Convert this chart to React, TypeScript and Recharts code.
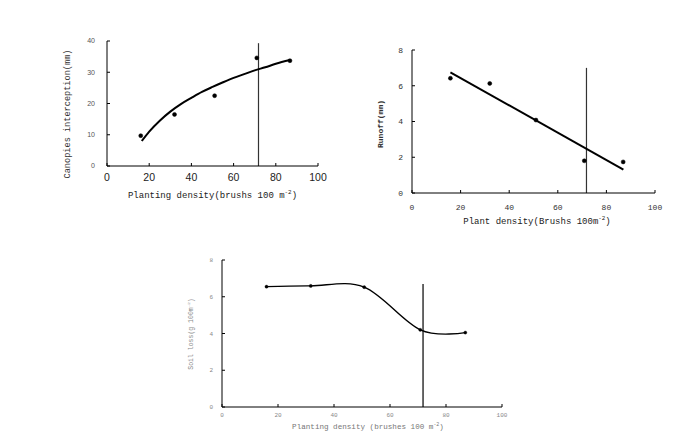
import React from 'react';
import { ComposedChart, Line, XAxis, YAxis, ReferenceLine, Label } from 'recharts';

// ---------- Data ----------
const xTicks = [0, 20, 40, 60, 80, 100];
const canopyTicks = [0, 10, 20, 30, 40];
const runoffTicks = [0, 2, 4, 6, 8];
const soilTicks = [0, 2, 4, 6, 8];

const canopyPoints = [
  { x: 16, y: 9.7 },
  { x: 32, y: 16.5 },
  { x: 51, y: 22.5 },
  { x: 71, y: 34.6 },
  { x: 86.7, y: 33.7 },
];
const canopyCurve = [
  { x: 16.5, y: 8.0 },
  { x: 20, y: 11.0 },
  { x: 25, y: 14.5 },
  { x: 30, y: 17.4 },
  { x: 35, y: 19.8 },
  { x: 40, y: 21.8 },
  { x: 45, y: 23.7 },
  { x: 50, y: 25.3 },
  { x: 55, y: 26.8 },
  { x: 60, y: 28.2 },
  { x: 65, y: 29.4 },
  { x: 70, y: 30.6 },
  { x: 75, y: 31.6 },
  { x: 80, y: 32.7 },
  { x: 86.7, y: 33.9 },
];

const runoffPoints = [
  { x: 15.8, y: 6.42 },
  { x: 32, y: 6.13 },
  { x: 51, y: 4.08 },
  { x: 70.9, y: 1.8 },
  { x: 86.9, y: 1.74 },
];
const runoffLine = [
  { x: 15.8, y: 6.75 },
  { x: 87, y: 1.31 },
];

const soilPoints = [
  { x: 15.9, y: 6.55 },
  { x: 31.7, y: 6.59 },
  { x: 50.8, y: 6.52 },
  { x: 70.8, y: 4.2 },
  { x: 86.9, y: 4.05 },
];

const thresholdX = 71.8;

// ---------- Smooth curve (cardinal / Catmull-Rom like Excel smoothing) ----------
class CardinalCurve {
  _context: any;
  _k: number;
  _line: number = NaN;
  _point = 0;
  _x0 = NaN; _x1 = NaN; _x2 = NaN;
  _y0 = NaN; _y1 = NaN; _y2 = NaN;
  constructor(context: any, tension: number) {
    this._context = context;
    this._k = (1 - tension) / 6;
  }
  areaStart() { this._line = 0; }
  areaEnd() { this._line = NaN; }
  lineStart() {
    this._x0 = this._x1 = this._x2 = this._y0 = this._y1 = this._y2 = NaN;
    this._point = 0;
  }
  lineEnd() {
    switch (this._point) {
      case 2: this._context.lineTo(this._x2, this._y2); break;
      case 3: this.seg(this._x1, this._y1); break;
    }
    if (this._line || (this._line !== 0 && this._point === 1)) this._context.closePath();
    this._line = 1 - this._line;
  }
  seg(x: number, y: number) {
    this._context.bezierCurveTo(
      this._x1 + this._k * (this._x2 - this._x0),
      this._y1 + this._k * (this._y2 - this._y0),
      this._x2 + this._k * (this._x1 - x),
      this._y2 + this._k * (this._y1 - y),
      this._x2,
      this._y2
    );
  }
  point(x: number, y: number) {
    x = +x; y = +y;
    switch (this._point) {
      case 0:
        this._point = 1;
        this._line ? this._context.lineTo(x, y) : this._context.moveTo(x, y);
        break;
      case 1:
        this._point = 2; this._x1 = x; this._y1 = y;
        break;
      case 2:
        this._point = 3;
        this.seg(x, y);
        break;
      default:
        this.seg(x, y);
        break;
    }
    this._x0 = this._x1; this._x1 = this._x2; this._x2 = x;
    this._y0 = this._y1; this._y1 = this._y2; this._y2 = y;
  }
}
const smoothCurve: any = (context: any) => new CardinalCurve(context, 0);

// ---------- Helpers ----------
const MONO = '"Liberation Mono", "DejaVu Sans Mono", monospace';
const SANS = '"Liberation Sans", Arial, sans-serif';

const makeXTick = (font: string, size: number, color: string, off: number, len: number) => (props: any) => {
  const { x, y, payload } = props;
  return (
    <g>
      <line x1={x} y1={y} x2={x} y2={y - len} stroke="#000" strokeWidth={1} />
      <text x={x} y={y + off} textAnchor="middle" fontFamily={font} fontSize={size} fill={color}>
        {payload.value}
      </text>
    </g>
  );
};
const makeYTick = (font: string, size: number, color: string, off: number, len: number) => (props: any) => {
  const { x, y, payload } = props;
  return (
    <g>
      <line x1={x} y1={y} x2={x + len} y2={y} stroke="#000" strokeWidth={1} />
      <text x={x - off} y={y + size * 0.35} textAnchor="end" fontFamily={font} fontSize={size} fill={color}>
        {payload.value}
      </text>
    </g>
  );
};

const XLabel = ({ viewBox, cx, cy, main, sup, tail, size, color }: any) => (
  <text x={cx} y={cy} textAnchor="middle" fontFamily={MONO} fontSize={size} fill={color}>
    {main}
    <tspan fontSize={size * 0.65} dy={-size * 0.4}>{sup}</tspan>
    <tspan dy={size * 0.4}>{tail}</tspan>
  </text>
);

const YLabelText = ({ cx, cy, main, sup, tail, size, color, weight }: any) => (
  <text
    x={cx}
    y={cy}
    textAnchor="middle"
    fontFamily={MONO}
    fontSize={size}
    fill={color}
    fontWeight={weight || 'normal'}
    transform={`rotate(-90 ${cx} ${cy})`}
  >
    {main}
    {sup ? <tspan fontSize={size * 0.65} dy={-size * 0.4}>{sup}</tspan> : null}
    {sup ? <tspan dy={size * 0.4}>{tail}</tspan> : null}
  </text>
);

const dotBig = { r: 2, fill: '#000', stroke: '#000', strokeWidth: 0.5 };
const dotSmall = { r: 1.6, fill: '#000', stroke: '#000', strokeWidth: 0.3 };

export default function App() {
  return (
    <div style={{ position: 'absolute', left: 0, top: 0, width: 700, height: 446, background: '#fff' }}>
      {/* Chart 1: Canopies interception */}
      <div style={{ position: 'absolute', left: 0, top: 0 }}>
        <ComposedChart width={350} height={235} margin={{ top: 41, right: 32, left: 0, bottom: 0 }}>
          <XAxis
            type="number"
            dataKey="x"
            domain={[0, 100]}
            ticks={xTicks}
            height={69}
            axisLine={{ stroke: '#000' }}
            tickLine={false}
            tickSize={0}
            tickMargin={0}
            tick={makeXTick(SANS, 10.5, '#222', 15, 3)}
            allowDataOverflow
          >
            <Label
              content={() => (
                <XLabel cx={212.5} cy={198} main="Planting density(brushs 100 m" sup="-2" tail=")" size={9} color="#222" />
              )}
            />
          </XAxis>
          <YAxis
            type="number"
            domain={[0, 40]}
            ticks={canopyTicks}
            width={107}
            axisLine={{ stroke: '#000' }}
            tickLine={false}
            tickSize={0}
            tickMargin={0}
            tick={makeYTick(SANS, 7, '#555', 12, 3)}
            allowDataOverflow
          >
            <Label content={() => <YLabelText cx={70} cy={114} main="Canopies interception(mm)" size={8.6} color="#333" />} />
          </YAxis>
          <ReferenceLine
            segment={[{ x: thresholdX, y: 0 }, { x: thresholdX, y: 39.3 }]}
            stroke="#333"
            strokeWidth={1.2}
          />
          <Line data={canopyCurve} dataKey="y" type="monotone" stroke="#000" strokeWidth={2} dot={false} isAnimationActive={false} />
          <Line data={canopyPoints} dataKey="y" stroke="none" dot={dotBig} activeDot={false} isAnimationActive={false} />
        </ComposedChart>
      </div>

      {/* Chart 2: Runoff */}
      <div style={{ position: 'absolute', left: 350, top: 0 }}>
        <ComposedChart width={350} height={240} margin={{ top: 50, right: 45, left: 0, bottom: 0 }}>
          <XAxis
            type="number"
            dataKey="x"
            domain={[0, 100]}
            ticks={xTicks}
            height={47}
            axisLine={{ stroke: '#000' }}
            tickLine={false}
            tickSize={0}
            tickMargin={0}
            tick={makeXTick(MONO, 8, '#333', 17, 3)}
            allowDataOverflow
          >
            <Label
              content={() => (
                <XLabel cx={187} cy={224} main="Plant density(Brushs 100m" sup="-2" tail=")" size={9} color="#222" />
              )}
            />
          </XAxis>
          <YAxis
            type="number"
            domain={[0, 8]}
            ticks={runoffTicks}
            width={62}
            axisLine={{ stroke: '#000' }}
            tickLine={false}
            tickSize={0}
            tickMargin={0}
            tick={makeYTick(MONO, 8, '#333', 9, 3)}
            allowDataOverflow
          >
            <Label content={() => <YLabelText cx={33} cy={124} main="Runoff(mm)" size={8} color="#333" weight="bold" />} />
          </YAxis>
          <ReferenceLine
            segment={[{ x: thresholdX, y: 0 }, { x: thresholdX, y: 7.0 }]}
            stroke="#333"
            strokeWidth={1.2}
          />
          <Line data={runoffLine} dataKey="y" type="linear" stroke="#000" strokeWidth={2} dot={false} isAnimationActive={false} />
          <Line data={runoffPoints} dataKey="y" stroke="none" dot={dotBig} activeDot={false} isAnimationActive={false} />
        </ComposedChart>
      </div>

      {/* Chart 3: Soil loss */}
      <div style={{ position: 'absolute', left: 150, top: 240 }}>
        <ComposedChart width={400} height={206} margin={{ top: 20, right: 48, left: 0, bottom: 0 }}>
          <XAxis
            type="number"
            dataKey="x"
            domain={[0, 100]}
            ticks={xTicks}
            height={39}
            axisLine={{ stroke: '#000' }}
            tickLine={false}
            tickSize={0}
            tickMargin={0}
            tick={makeXTick(MONO, 6, '#888', 10, 3)}
            allowDataOverflow
          >
            <Label
              content={() => (
                <XLabel cx={218} cy={189} main="Planting density (brushes 100 m" sup="-2" tail=")" size={7.6} color="#777" />
              )}
            />
          </XAxis>
          <YAxis
            type="number"
            domain={[0, 8]}
            ticks={soilTicks}
            width={72}
            axisLine={{ stroke: '#000' }}
            tickLine={false}
            tickSize={0}
            tickMargin={0}
            tick={makeYTick(MONO, 6, '#888', 9, 3)}
            allowDataOverflow
          >
            <Label content={() => <YLabelText cx={43} cy={94} main="Soil loss(g 100m" sup="-2" tail=")" size={6.5} color="#888" />} />
          </YAxis>
          <ReferenceLine
            segment={[{ x: thresholdX, y: 0 }, { x: thresholdX, y: 6.7 }]}
            stroke="#000"
            strokeWidth={1.2}
          />
          <Line
            data={soilPoints}
            dataKey="y"
            type={smoothCurve}
            stroke="#000"
            strokeWidth={1.4}
            dot={dotSmall}
            activeDot={false}
            isAnimationActive={false}
          />
        </ComposedChart>
      </div>
    </div>
  );
}
